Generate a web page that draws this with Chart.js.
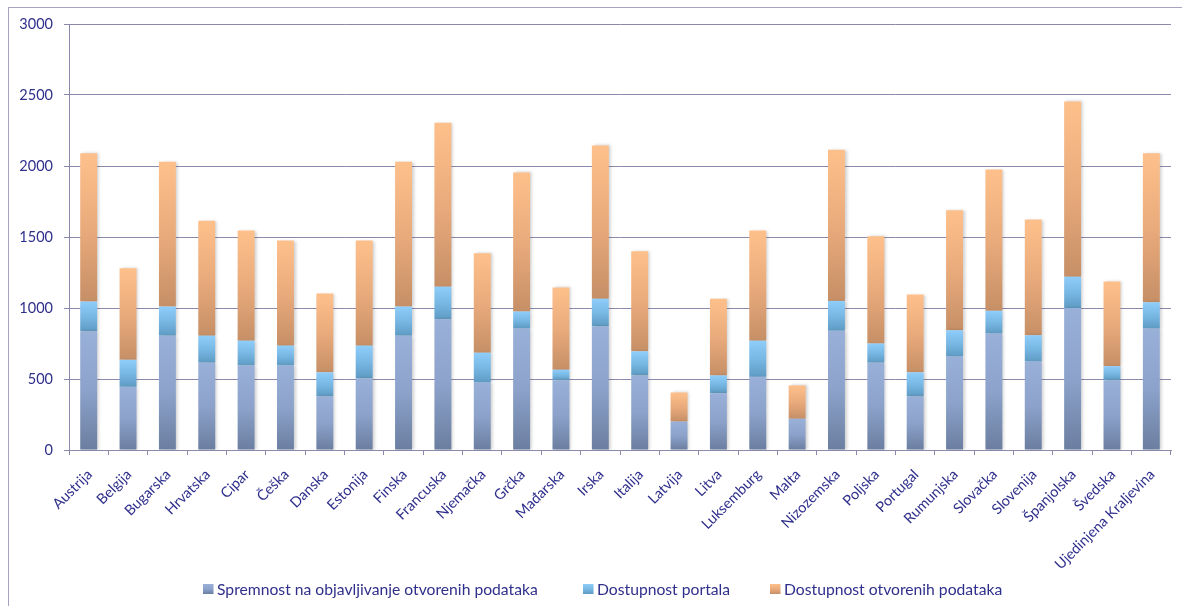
<!DOCTYPE html>
<html>
<head>
<meta charset="utf-8">
<script src="https://cdn.jsdelivr.net/npm/chart.js@4/dist/chart.umd.min.js"></script>
<style>
  html, body { margin: 0; padding: 0; background: #ffffff; }
  #wrap { width: 1182px; height: 606px; position: relative; }
</style>
</head>
<body>
<div id="wrap"><canvas id="chart" width="1182" height="606"></canvas></div>
<script>
// Open data readiness by EU member state (stacked components)
const categories = [
  'Austrija', 'Belgija', 'Bugarska', 'Hrvatska', 'Cipar', 'Češka', 'Danska',
  'Estonija', 'Finska', 'Francuska', 'Njemačka', 'Grčka', 'Mađarska', 'Irska',
  'Italija', 'Latvija', 'Litva', 'Luksemburg', 'Malta', 'Nizozemska', 'Poljska',
  'Portugal', 'Rumunjska', 'Slovačka', 'Slovenija', 'Španjolska', 'Švedska',
  'Ujedinjena Kraljevina'
];

const spremnost = [
  835, 445, 805, 615, 595, 595, 377, 505, 805, 920, 475, 855, 490, 870,
  525, 200, 400, 515, 220, 840, 615, 377, 658, 820, 623, 1000, 490, 855
];

const portal = [
  210, 190, 205, 190, 175, 140, 170, 230, 205, 230, 210, 120, 75, 195,
  170, 0, 125, 255, 0, 210, 135, 170, 185, 160, 185, 220, 100, 185
];

const dostupnost = [
  1045, 645, 1020, 810, 775, 740, 555, 740, 1020, 1155, 700, 980, 580, 1080,
  705, 205, 540, 775, 235, 1065, 755, 548, 845, 995, 815, 1235, 597, 1050
];

const seriesNames = [
  'Spremnost na objavljivanje otvorenih podataka',
  'Dostupnost portala',
  'Dostupnost otvorenih podataka'
];

const yMin = 0;
const yMax = 3000;
const yStep = 500;

const TEXT = '#2f2f8c';
const GRID = '#8b89ab';

// Vertical gradient spanning each stacked segment
function segmentGradient(stops, solid) {
  return function (ctx) {
    const chart = ctx.chart;
    if (ctx.type !== 'data' || !chart.chartArea) return solid;
    const y = chart.scales.y;
    let base = 0;
    for (let d = 0; d < ctx.datasetIndex; d++) {
      base += chart.data.datasets[d].data[ctx.dataIndex];
    }
    const top = y.getPixelForValue(base + ctx.raw);
    const bottom = y.getPixelForValue(base);
    if (!(bottom > top)) return solid;
    const g = chart.ctx.createLinearGradient(0, top, 0, bottom);
    stops.forEach(([o, c]) => g.addColorStop(o, c));
    return g;
  };
}

const palette = [
  { solid: '#7f93b6', stops: [[0, '#99b0d9'], [0.5, '#8ca2ca'], [1, '#6b7ea0']] },
  { solid: '#74b7e6', stops: [[0, '#8fcdfa'], [0.5, '#78b8e4'], [1, '#5e9bc4']] },
  { solid: '#e4a87d', stops: [[0, '#fec08b'], [0.5, '#eaab7c'], [1, '#c68f66']] }
];

// Soft drop shadow to the right of the columns
const barShadow = {
  id: 'barShadow',
  beforeDatasetsDraw(chart) {
    const c = chart.ctx;
    c.save();
    c.shadowColor = 'rgba(60,60,60,0.25)';
    c.shadowBlur = 3;
    c.shadowOffsetX = 2;
    c.shadowOffsetY = 0;
  },
  afterDatasetsDraw(chart) {
    chart.ctx.restore();
  }
};

// Thin frame around the whole chart
const frame = {
  id: 'frame',
  beforeDraw(chart) {
    const c = chart.ctx;
    c.save();
    c.strokeStyle = '#a4a3c0';
    c.lineWidth = 1;
    c.strokeRect(8.5, 7.5, chart.width + 20, chart.height + 20);
    c.restore();
  }
};

// Legend row below the axis labels
const bottomLegend = {
  id: 'bottomLegend',
  afterDraw(chart, args, opts) {
    const c = chart.ctx;
    c.save();
    c.font = opts.font;
    c.textBaseline = 'middle';
    c.textAlign = 'left';
    chart.data.datasets.forEach((ds, i) => {
      const x = opts.x[i];
      const y = opts.y;
      const g = c.createLinearGradient(0, y - 5, 0, y + 5);
      palette[i].stops.forEach(([o, col]) => g.addColorStop(o, col));
      c.fillStyle = g;
      c.fillRect(x, y - 5, 10.5, 10);
      c.fillStyle = TEXT;
      c.fillText(ds.label, x + 14, y + 0.5);
    });
    c.restore();
  }
};

const datasets = [spremnost, portal, dostupnost].map((values, i) => ({
  label: seriesNames[i],
  data: values,
  backgroundColor: segmentGradient(palette[i].stops, palette[i].solid),
  borderWidth: 0,
  categoryPercentage: 1.0,
  barPercentage: 0.43,
  stack: 'total'
}));

new Chart(document.getElementById('chart'), {
  type: 'bar',
  data: { labels: categories, datasets },
  options: {
    responsive: false,
    animation: false,
    devicePixelRatio: 1,
    layout: { padding: { top: 24, right: 11, bottom: 0, left: 0 } },
    plugins: {
      legend: { display: false },
      tooltip: { enabled: false },
      bottomLegend: {
        x: [203, 583, 770],
        y: 589,
        font: '15.7px Lato'
      }
    },
    scales: {
      x: {
        stacked: true,
        afterFit(scale) { scale.height = 156; },
        grid: {
          display: true,
          offset: true,
          drawOnChartArea: false,
          drawTicks: true,
          tickLength: 5,
          color: GRID
        },
        border: { display: true, color: GRID, width: 1 },
        ticks: {
          autoSkip: false,
          maxRotation: 45,
          minRotation: 45,
          padding: 11,
          labelOffset: 1,
          color: TEXT,
          font: { family: 'Lato', size: 14.5 }
        }
      },
      y: {
        stacked: true,
        min: yMin,
        max: yMax,
        afterFit(scale) { scale.width = 69; },
        grid: {
          color: GRID,
          lineWidth: 1,
          drawTicks: true,
          tickLength: 5
        },
        border: { display: true, color: GRID, width: 1 },
        ticks: {
          stepSize: yStep,
          padding: 11,
          color: TEXT,
          font: { family: 'Lato', size: 14.5 },
          callback: (v) => String(v)
        }
      }
    }
  },
  plugins: [frame, barShadow, bottomLegend]
});
</script>
</body>
</html>
